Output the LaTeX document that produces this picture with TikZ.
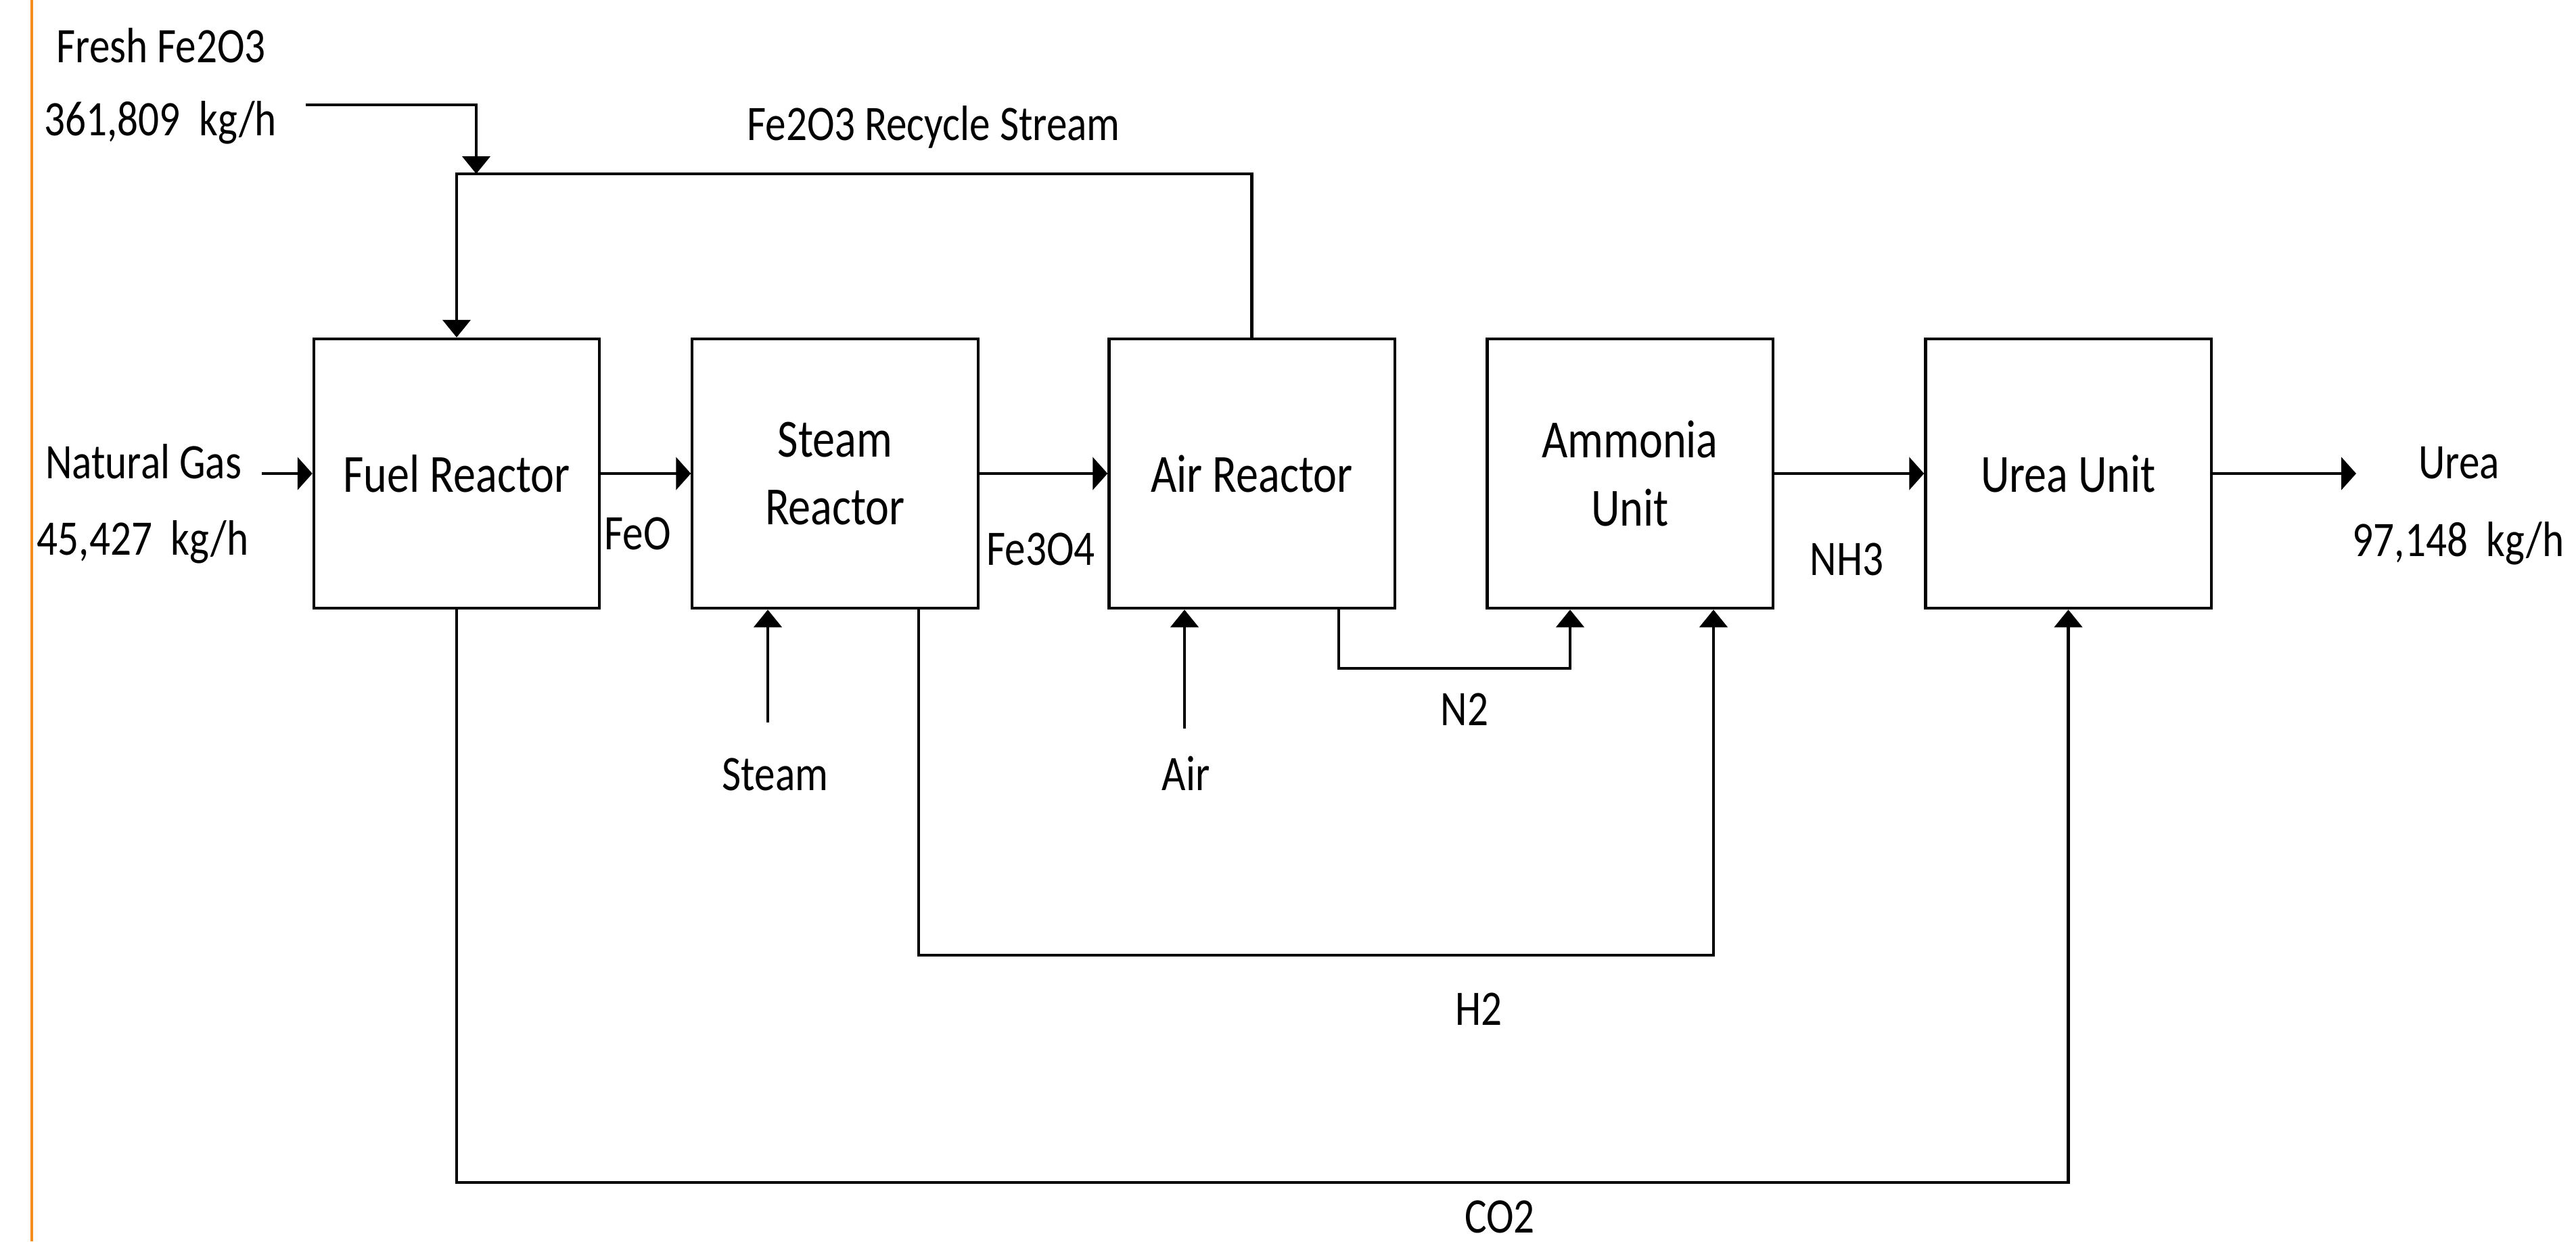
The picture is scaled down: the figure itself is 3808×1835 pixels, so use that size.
\documentclass[tikz,border=0pt]{standalone}
\usepackage{fontspec}
\setmainfont{Carlito}
\usepackage{graphicx}
\usetikzlibrary{arrows.meta}
\definecolor{edgeorange}{RGB}{245,140,30}
\newcommand{\vs}[1]{\scalebox{1}[1.2]{#1}}
\begin{document}
\begin{tikzpicture}[x=0.01cm,y=-0.01cm,
  box/.style={draw,line width=1.2pt,minimum width=4.22cm,minimum height=3.98cm,inner sep=0pt,align=center,font=\fontsize{18.8pt}{28.7pt}\selectfont},
  lbl/.style={anchor=base,inner sep=0pt,font=\fontsize{17.4pt}{20pt}\selectfont},
  flow/.style={line width=1.4pt,-{Triangle[length=0.22cm,width=0.48cm]}},
  vflow/.style={line width=1.3pt,-{Triangle[length=0.26cm,width=0.41cm]}}]
\fill[white] (0,0) rectangle (3808,1835);
\useasboundingbox (0,0) rectangle (3808,1835);
\draw[edgeorange,line width=1.2pt] (47,0) -- (47,1835);

% units
\node[box] (fuel)  at (675,700)    {\vs{Fuel Reactor}};
\node[box] (steam) at (1234.5,700) {\vs{Steam}\\\vs{Reactor}};
\node[box] (air)   at (1850.5,700) {\vs{Air Reactor}};
\node[box] (amm)   at (2409.5,700) {\vs{Ammonia}\\\vs{Unit}};
\node[box] (urea)  at (3057.5,700) {\vs{Urea Unit}};

% labels
\node[lbl] (freshA) at (238,92)   {\vs{Fresh Fe2O3}};
\node[lbl] (freshB) at (237,200)  {\vs{361,809\ \ kg/h}};
\node[lbl] (rec)    at (1380,207) {\vs{Fe2O3 Recycle Stream}};
\node[lbl] (ngA)    at (212,707)  {\vs{Natural Gas}};
\node[lbl] (ngB)    at (211,820)  {\vs{45,427\ \ kg/h}};
\node[lbl,anchor=base west] (feo)   at (893,812)  {\vs{FeO}};
\node[lbl,anchor=base west] (fe3o4) at (1458,835) {\vs{Fe3O4}};
\node[lbl] (nh3)    at (2730,850) {\vs{NH3}};
\node[lbl] (ureaA)  at (3635,707) {\vs{Urea}};
\node[lbl] (ureaB)  at (3634,822) {\vs{97,148\ \ kg/h}};
\node[lbl] (steamL) at (1146,1168) {\vs{Steam}};
\node[lbl] (airL)   at (1753,1168) {\vs{Air}};
\node[lbl] (n2)     at (2165,1072) {\vs{N2}};
\node[lbl] (h2)     at (2186,1515) {\vs{H2}};
\node[lbl] (co2)    at (2217,1822) {\vs{CO2}};

% free ends and bends
\coordinate (fs)    at (452,155);
\coordinate (rj)    at (704,257);
\coordinate (ngs)   at (387,700);
\coordinate (uo)    at (3483,700);
\coordinate (stin)  at (1135,1068);
\coordinate (airin) at (1751,1077);
\coordinate (n2a)   at (1979,988);
\coordinate (n2b)   at (2321,988);
\coordinate (h2a)   at (1358,1412);
\coordinate (h2b)   at (2533,1412);
\coordinate (co2c)  at (0,1748);

% connectors
\draw[vflow] (fs) -| (rj);
\draw[vflow] (air.north) |- (fuel.north |- rj) -- (fuel.north);
\draw[flow] (ngs) -- (fuel.west);
\draw[flow] (fuel.east) -- (steam.west);
\draw[flow] (steam.east) -- (air.west);
\draw[flow] (amm.east) -- (urea.west);
\draw[flow] (urea.east) -- (uo);
\draw[vflow] (stin) -- (stin |- steam.south);
\draw[vflow] (airin) -- (airin |- air.south);
\draw[vflow] (n2a |- air.south) -- (n2a) -- (n2b) -- (n2b |- amm.south);
\draw[vflow] (h2a |- steam.south) -- (h2a) -- (h2b) -- (h2b |- amm.south);
\draw[vflow] (fuel.south) |- (urea.south |- co2c) -- (urea.south);
\end{tikzpicture}
\end{document}
